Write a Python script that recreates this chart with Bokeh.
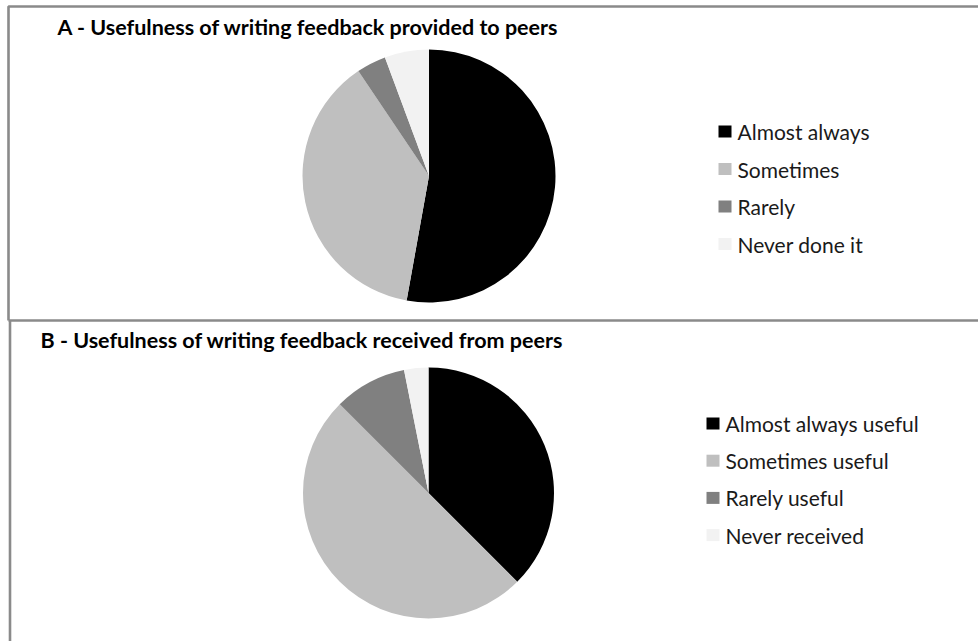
import math

from bokeh.core.properties import value
from bokeh.embed import file_html
from bokeh.models import ColumnDataSource, Range1d
from bokeh.plotting import figure
from bokeh.resources import INLINE

# Survey responses (number of students)
categories_a = ["Almost always", "Sometimes", "Rarely", "Never done it"]
counts_a = [28, 20, 2, 3]
title_a = "A - Usefulness of writing feedback provided to peers"

categories_b = ["Almost always useful", "Sometimes useful", "Rarely useful", "Never received"]
counts_b = [12, 16, 3, 1]
title_b = "B - Usefulness of writing feedback received from peers"

colors = ["#000000", "#bfbfbf", "#808080", "#f2f2f2"]

W, H = 978, 641
FONT = "Lato"


def ypx(y):
    # page pixels from the top -> data units from the bottom
    return H - y


p = figure(width=W, height=H, x_range=Range1d(0, W), y_range=Range1d(0, H),
           output_backend="svg", toolbar_location=None, min_border=0)
p.axis.visible = False
p.grid.visible = False
p.outline_line_color = None
p.background_fill_color = "white"
p.border_fill_color = "white"

# panel frames
frame_color = "#8a8a8a"
p.line(x=[8, 8, 990], y=[ypx(320), ypx(6), ypx(6)], line_color=frame_color, line_width=2.6)
p.line(x=[9.5, 9.5], y=[ypx(320), ypx(650)], line_color=frame_color, line_width=2.6)
p.line(x=[8, 990], y=[ypx(320), ypx(320)], line_color=frame_color, line_width=2.6)


def pie(cats, counts, cx, cy, r, title, tx, ty, lx, ly0, dy):
    total = float(sum(counts))
    starts, ends = [], []
    cum = 0.0
    for c in counts:
        a0 = math.pi / 2 - 2 * math.pi * cum / total
        cum += c
        a1 = math.pi / 2 - 2 * math.pi * cum / total
        # anticlockwise from the later angle to the earlier one
        starts.append(a1)
        ends.append(a0)
    src = ColumnDataSource(dict(start=starts, end=ends, color=colors, cat=cats))
    p.wedge(x=cx, y=ypx(cy), radius=r, start_angle="start", end_angle="end",
            fill_color="color", line_color=None, source=src)

    p.text(x=[tx], y=[ypx(ty)], text=[title], text_font=value(FONT),
           text_font_style="bold", text_font_size="21.5px", text_color="#000000",
           text_baseline="middle", text_align="left")

    ys = [ypx(ly0 + i * dy) for i in range(len(cats))]
    p.rect(x=[lx + 6.5] * len(cats), y=ys, width=13, height=12,
           fill_color=colors, line_color=None)
    p.text(x=[lx + 19] * len(cats), y=ys, text=cats, text_font=value(FONT),
           text_font_size="21px", text_color="#1a1a1a",
           text_baseline="middle", text_align="left")


pie(categories_a, counts_a, 428.5, 175.5, 126.5, title_a, 57, 26, 718, 131, 37.5)
pie(categories_b, counts_b, 428.0, 492.5, 125.5, title_b, 40, 339, 706, 423, 37.2)

open("out.html", "w").write(file_html(p, INLINE))
